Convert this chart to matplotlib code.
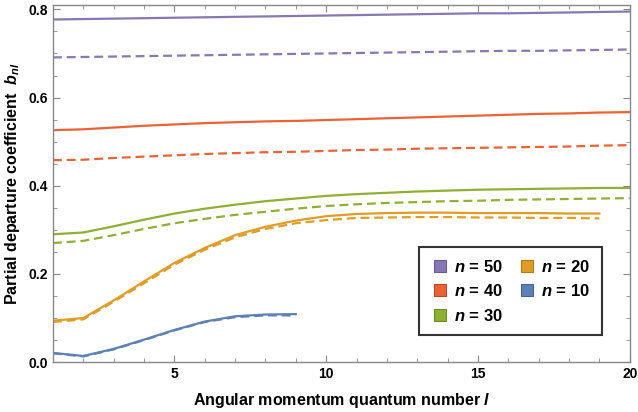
import matplotlib.pyplot as plt
from matplotlib.ticker import MultipleLocator
from matplotlib.lines import Line2D

plt.rcParams['font.family'] = 'Liberation Sans'
plt.rcParams['font.weight'] = 'bold'
plt.rcParams['axes.labelweight'] = 'bold'
plt.rcParams['mathtext.fontset'] = 'custom'
plt.rcParams['mathtext.it'] = 'Liberation Sans:bold:italic'
plt.rcParams['mathtext.rm'] = 'Liberation Sans:bold'
plt.rcParams['mathtext.bf'] = 'Liberation Sans:bold'

# angular momentum quantum number l
l_all = list(range(1, 21))
l_20 = list(range(1, 20))
l_10 = list(range(1, 10))

# partial departure coefficients (solid / dashed)
b50 = [0.777, 0.778, 0.779, 0.780, 0.781, 0.782, 0.783, 0.784, 0.785, 0.786,
       0.787, 0.788, 0.789, 0.790, 0.791, 0.791, 0.792, 0.793, 0.794, 0.795]
b50d = [0.691, 0.692, 0.693, 0.694, 0.695, 0.696, 0.697, 0.698, 0.699, 0.700,
        0.701, 0.702, 0.703, 0.704, 0.705, 0.706, 0.706, 0.707, 0.708, 0.709]
b40 = [0.526, 0.528, 0.532, 0.536, 0.539, 0.542, 0.544, 0.546, 0.547, 0.549,
       0.551, 0.553, 0.555, 0.557, 0.559, 0.561, 0.563, 0.564, 0.566, 0.567]
b40d = [0.458, 0.459, 0.463, 0.466, 0.469, 0.472, 0.474, 0.476, 0.477, 0.479,
        0.481, 0.482, 0.484, 0.485, 0.486, 0.487, 0.488, 0.489, 0.491, 0.492]
b30 = [0.290, 0.294, 0.308, 0.323, 0.337, 0.348, 0.357, 0.365, 0.371, 0.377,
       0.381, 0.384, 0.387, 0.389, 0.391, 0.392, 0.393, 0.394, 0.395, 0.395]
b30d = [0.270, 0.275, 0.288, 0.302, 0.315, 0.325, 0.334, 0.341, 0.348, 0.354,
        0.358, 0.361, 0.363, 0.365, 0.366, 0.368, 0.369, 0.370, 0.371, 0.372]
b20 = [0.094, 0.100, 0.140, 0.183, 0.225, 0.259, 0.288, 0.307, 0.321, 0.331,
       0.336, 0.338, 0.339, 0.339, 0.338, 0.338, 0.338, 0.337, 0.337]
b20d = [0.091, 0.097, 0.137, 0.179, 0.221, 0.255, 0.283, 0.302, 0.315, 0.322,
        0.327, 0.328, 0.329, 0.329, 0.328, 0.328, 0.327, 0.327, 0.326]
b10 = [0.021, 0.014, 0.030, 0.051, 0.073, 0.092, 0.104, 0.108, 0.109]
b10d = [0.020, 0.013, 0.029, 0.050, 0.072, 0.091, 0.102, 0.106, 0.106]

labels = ['50', '40', '30', '20', '10']
colors = ['#8778B3', '#EB6235', '#8FB032', '#E19C24', '#5E81B5']
edges = ['#6a5c94', '#b94a24', '#6c8a20', '#b07a14', '#42659a']

fig = plt.figure(figsize=(6.38, 4.12), dpi=100)
ax = fig.add_axes([0.083, 0.121, 0.904, 0.867])

series = [(l_all, b50, b50d), (l_all, b40, b40d), (l_all, b30, b30d),
          (l_20, b20, b20d), (l_10, b10, b10d)]
for (x, s, d), c in zip(series, colors):
    ax.plot(x, s, color=c, lw=1.6)
    ax.plot(x, d, color=c, lw=1.6, ls=(0, (4, 2.2)))

ax.set_xlim(1, 20)
ax.set_ylim(0, 0.81)
ax.xaxis.set_major_locator(MultipleLocator(5))
ax.xaxis.set_minor_locator(MultipleLocator(1))
ax.yaxis.set_major_locator(MultipleLocator(0.2))
ax.yaxis.set_minor_locator(MultipleLocator(0.05))
ax.tick_params(which='both', direction='in', top=True, right=True,
               color='#888888', labelsize=10)
ax.tick_params(which='major', length=5)
ax.tick_params(which='minor', length=3)
ax.set_xticks([5, 10, 15, 20])
ax.set_xticklabels(['5', '10', '15', '20'], fontweight='bold')
ax.set_yticks([0, 0.2, 0.4, 0.6, 0.8])
ax.set_yticklabels(['0.0', '0.2', '0.4', '0.6', '0.8'], fontweight='bold')
for sp in ax.spines.values():
    sp.set_color('#888888')
    sp.set_linewidth(1.0)

ax.set_xlabel('Angular momentum quantum number $l$', fontsize=11.5,
              fontweight='bold', labelpad=7)
ax.set_ylabel('Partial departure coefficient  $b_{nl}$', fontsize=11.5,
              fontweight='bold', labelpad=5)

handles = [Line2D([], [], ls='none', marker='s', markersize=8.5,
                  markerfacecolor=c, markeredgecolor=e, markeredgewidth=0.8)
           for c, e in zip(colors, edges)]
leg = ax.legend(handles, ['$n$ = ' + t for t in labels], ncol=2,
                loc='lower right', bbox_to_anchor=(0.966, 0.052),
                prop={'size': 12, 'weight': 'bold'}, frameon=True, fancybox=False,
                handletextpad=0.3, columnspacing=0.9, labelspacing=0.5,
                borderpad=0.7, handlelength=1.1)
leg.get_frame().set_edgecolor('black')
leg.get_frame().set_linewidth(1.5)

fig.savefig('out.png', dpi=100)
